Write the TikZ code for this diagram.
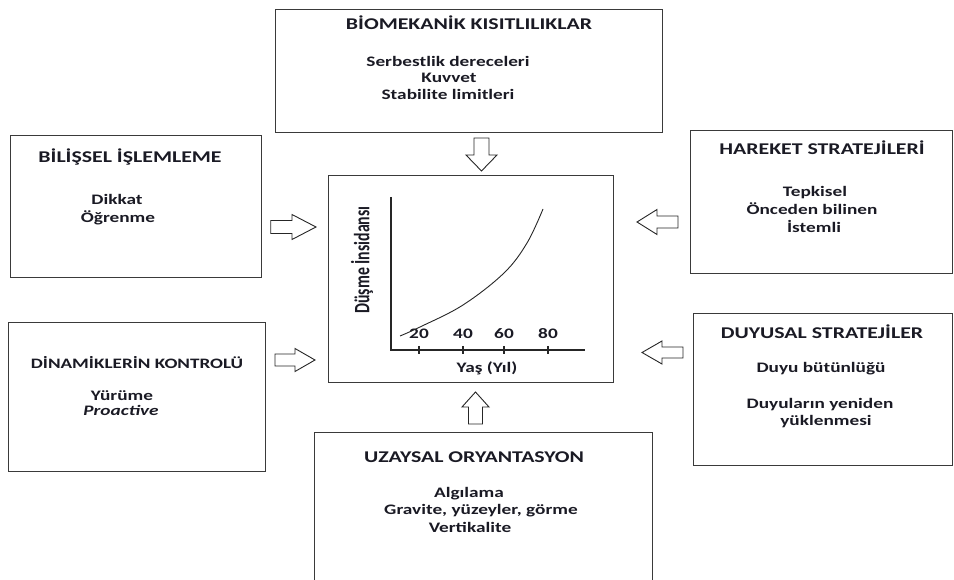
\documentclass[tikz,border=0pt]{standalone}
\usepackage{fontspec}
\setmainfont{Carlito}[FakeStretch=1.33]
\newfontfamily\condfont{Carlito}[FakeStretch=0.72]
\definecolor{ink}{HTML}{1A1A24}
\definecolor{frame}{HTML}{3A3A3A}
\tikzset{
  box/.style={draw=frame, line width=1.3pt, anchor=north west, inner sep=0, minimum width=#1},
  ttl/.style={anchor=base, text=ink, font=\fontsize{16.4}{19}\selectfont\bfseries, inner sep=0},
  itm/.style={anchor=base, text=ink, font=\fontsize{14.5}{17}\selectfont\bfseries, inner sep=0},
  barrow/.style={draw=black!85, line width=0.9pt, fill=white, line join=miter},
  axis/.style={line width=1.2pt, draw=black!85},
}
\begin{document}
\begin{tikzpicture}[x=1pt,y=-1pt]
\useasboundingbox (0,0) rectangle (954,580);
% boxes
\node[box=387pt, minimum height=123pt] (bio) at (275,9) {};
\node[box=251pt, minimum height=142pt] (cog) at (10,135) {};
\node[box=257pt, minimum height=149pt] (dyn) at (8,322) {};
\node[box=262pt, minimum height=143pt] (mov) at (690,130) {};
\node[box=259pt, minimum height=152pt] (sen) at (693,313) {};
\node[box=338pt, minimum height=168pt] (spa) at (314,432) {};
\node[box=285pt, minimum height=207pt] (ctr) at (328,175) {};
% titles
\node[ttl] (biot) at (469,30) {BİOMEKANİK KISITLILIKLAR};
\node[ttl] (cogt) at (130,163) {BİLİŞSEL İŞLEMLEME};
\node[ttl, font=\fontsize{14.4}{17}\selectfont\bfseries] (dynt) at (137,368) {DİNAMİKLERİN KONTROLÜ};
\node[ttl] (movt) at (822,155) {HAREKET STRATEJİLERİ};
\node[ttl] (sent) at (822,338) {DUYUSAL STRATEJİLER};
\node[ttl] (spat) at (474,462) {UZAYSAL ORYANTASYON};
% items
\node[itm] (bio1) at (448,67) {Serbestlik dereceleri};
\node[itm] (bio2) at (449,83) {Kuvvet};
\node[itm] (bio3) at (448,100) {Stabilite limitleri};
\node[itm] (cog1) at (117,205) {Dikkat};
\node[itm] (cog2) at (118,223) {Öğrenme};
\node[itm] (dyn1) at (122,400) {Yürüme};
\node[itm, font=\fontsize{14.5}{17}\selectfont\bfseries\itshape] (dyn2) at (121,415) {Proactive};
\node[itm] (mov1) at (815,197) {Tepkisel};
\node[itm] (mov2) at (812,215) {Önceden bilinen};
\node[itm] (mov3) at (814,233) {İstemli};
\node[itm] (sen1) at (821,373) {Duyu bütünlüğü};
\node[itm] (sen2) at (820,408) {Duyuların yeniden};
\node[itm] (sen3) at (826,425) {yüklenmesi};
\node[itm] (spa1) at (469,497) {Algılama};
\node[itm] (spa2) at (481,514) {Gravite, yüzeyler, görme};
\node[itm] (spa3) at (470,532) {Vertikalite};
% block arrows (tails)
\coordinate (a1) at (270.7,227);
\coordinate (a2) at (275,360);
\coordinate (a3) at (481.5,138);
\coordinate (a4) at (475.5,424);
\coordinate (a5) at (678,222);
\coordinate (a6) at (683,352.5);
\draw[barrow] (a1) ++(0,-6.5) -- ++(21.3,0) -- ++(0,-6) -- ++(24,12.5) -- ++(-24,12.5) -- ++(0,-6) -- ++(-21.3,0) -- cycle;
\draw[barrow] (a2) ++(0,-6) -- ++(20,0) -- ++(0,-5.5) -- ++(20,11.5) -- ++(-20,11.5) -- ++(0,-5.5) -- ++(-20,0) -- cycle;
\draw[barrow] (a3) ++(-7.5,0) -- ++(0,17) -- ++(-8,0) -- ++(15.5,16) -- ++(15.5,-16) -- ++(-8,0) -- ++(0,-17) -- cycle;
\draw[barrow] (a4) ++(-7,0) -- ++(0,-17) -- ++(-6.5,0) -- ++(13.5,-15) -- ++(13.5,15) -- ++(-6.5,0) -- ++(0,17) -- cycle;
\draw[barrow] (a5) ++(0,-6) -- ++(-21,0) -- ++(0,-6.5) -- ++(-20,12.5) -- ++(20,12.5) -- ++(0,-6.5) -- ++(21,0) -- cycle;
\draw[barrow] (a6) ++(0,-5.5) -- ++(-21,0) -- ++(0,-6) -- ++(-20,11.5) -- ++(20,11.5) -- ++(0,-6) -- ++(21,0) -- cycle;
% graph
\coordinate (O) at (391,350);
\coordinate (ytop) at (391,197);
\coordinate (xend) at (585,350);
\draw[axis] (ytop) -- (O) -- (xend);
\foreach \x/\l in {419/20,463/40,504/60,548/80}{
  \coordinate (t\l) at (\x,350);
  \draw[axis] ([yshift=4pt]t\l) -- ([yshift=-4pt]t\l);
  \node[ttl, font=\fontsize{14.5}{17}\selectfont\bfseries] (n\l) at (\x,338) {\l};
}
\draw[line width=0.9pt, black!85] plot[smooth, tension=0.6] coordinates {(400,336) (420,327) (463,305) (504,273) (527,243) (543,209)};
\node[ttl, font=\fontsize{14.5}{17}\selectfont\bfseries] (xl) at (487,373) {Yaş (Yıl)};
\node[rotate=90, text=ink, font=\condfont\fontsize{22}{24}\selectfont\bfseries, inner sep=0] (yl) at (362,260) {Düşme İnsidansı};
\end{tikzpicture}
\end{document}
